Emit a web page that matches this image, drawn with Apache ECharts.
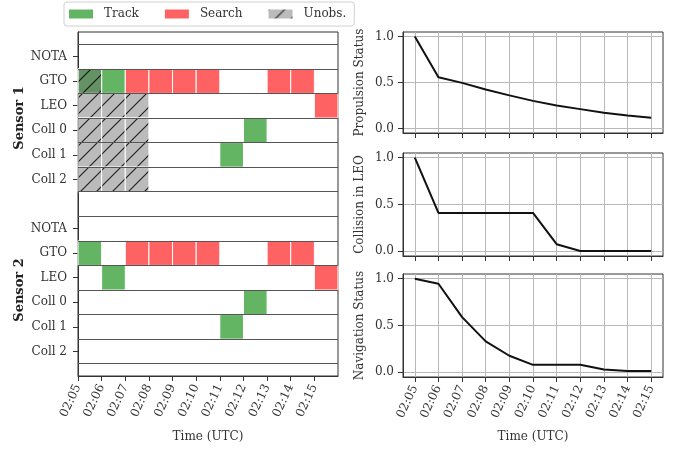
<!DOCTYPE html>
<html><head><meta charset="utf-8">
<script src="https://cdn.jsdelivr.net/npm/echarts@6/dist/echarts.min.js"></script>
<style>html,body{margin:0;padding:0;background:#fff}#c{width:677px;height:449px}</style>
</head><body><div id="c"></div>
<script>
// ---------- data ----------
const times = ['02:05','02:06','02:07','02:08','02:09','02:10','02:11','02:12','02:13','02:14','02:15'];
const rowLabels = ['NOTA','GTO','LEO','Coll 0','Coll 1','Coll 2'];
// T = Track, S = Search, - = none (one character per minute)
const sensor1States = [
  '-----------',
  'TTSSSS--SS-',
  '----------S',
  '-------T---',
  '------T----',
  '-----------'
];
const sensor1Unobs = [
  '-----------',
  'U----------',
  'UUU--------',
  'UUU--------',
  'UUU--------',
  'UUU--------'
];
const sensor2States = [
  '-----------',
  'T-SSSS--SS-',
  '-T--------S',
  '-------T---',
  '------T----',
  '-----------'
];
const sensor2Unobs = [
  '-----------',
  '-----------',
  '-----------',
  '-----------',
  '-----------',
  '-----------'
];
const propulsion = [1.0, 0.557, 0.496, 0.424, 0.36, 0.30, 0.25, 0.21, 0.17, 0.14, 0.115];
const collision  = [1.0, 0.41, 0.41, 0.41, 0.41, 0.41, 0.076, 0.004, 0.004, 0.004, 0.004];
const navigation = [1.0, 0.946, 0.59, 0.33, 0.177, 0.08, 0.08, 0.08, 0.03, 0.014, 0.014];
const statusTicks = [0, 0.5, 1.0];

// ---------- build ----------
const FONT = 'DejaVu Serif';
const SENSOR2_OFFSET = 7;
const tickIdx = times.map((t, i) => i);
const rowPositions = [];
rowLabels.forEach((r, i) => rowPositions.push(i));
rowLabels.forEach((r, i) => rowPositions.push(i + SENSOR2_OFFSET));
const rowEdges = [];
for (let i = 0; i <= SENSOR2_OFFSET + rowLabels.length; i++) rowEdges.push(i - 0.5);

function collect(states, offset, ch, out) {
  states.forEach((s, r) => {
    for (let k = 0; k < s.length; k++) if (s[k] === ch) out.push([k, r + offset]);
  });
  return out;
}
const trackData = collect(sensor2States, SENSOR2_OFFSET, 'T', collect(sensor1States, 0, 'T', []));
const searchData = collect(sensor2States, SENSOR2_OFFSET, 'S', collect(sensor1States, 0, 'S', []));
const unobsData = collect(sensor2Unobs, SENSOR2_OFFSET, 'U', collect(sensor1Unobs, 0, 'U', []));

function makeHatch() {
  const n = 16;
  const c = document.createElement('canvas');
  c.width = n; c.height = n;
  const g = c.getContext('2d');
  g.fillStyle = 'rgba(105,105,105,0.45)';
  g.fillRect(0, 0, n, n);
  g.strokeStyle = 'rgba(0,0,0,0.85)';
  g.lineWidth = 1.1;
  g.beginPath();
  g.moveTo(-2, n + 2); g.lineTo(n + 2, -2);
  g.moveTo(-2, 2); g.lineTo(2, -2);
  g.moveTo(n - 2, n + 2); g.lineTo(n + 2, n - 2);
  g.stroke();
  return c;
}
const hatchFill = { image: makeHatch(), repeat: 'repeat' };

const GREEN = '#63b463', RED = '#ff6262';

function cellSeries(name, data, fill, z) {
  return {
    name: name, type: 'custom', xAxisIndex: 0, yAxisIndex: 0, z: z,
    itemStyle: { color: fill },
    data: data,
    renderItem: function (params, api) {
      const x = api.value(0), y = api.value(1);
      const p0 = api.coord([x, y - 0.5]);
      const p1 = api.coord([x + 1, y + 0.5]);
      return {
        type: 'rect',
        shape: { x: Math.min(p0[0], p1[0]), y: Math.min(p0[1], p1[1]),
                 width: Math.abs(p1[0] - p0[0]), height: Math.abs(p1[1] - p0[1]) },
        style: { fill: fill, stroke: '#ffffff', lineWidth: 1 }
      };
    }
  };
}

const axisTxt = { fontFamily: FONT, fontSize: 12, color: '#333' };
const tickStyle = { show: true, length: 5, lineStyle: { color: '#333', width: 1 } };
const ROT = 65;

function rightX(idx, showLabels) {
  return {
    gridIndex: idx, type: 'value', min: -0.5, max: 10.5,
    axisLine: { show: true, onZero: false, lineStyle: { color: '#333' } },
    axisTick: Object.assign({ customValues: tickIdx }, tickStyle),
    axisLabel: Object.assign({ show: showLabels, customValues: tickIdx, rotate: ROT, margin: 9,
      formatter: v => times[Math.round(v)] }, axisTxt),
    splitLine: { show: true, lineStyle: { color: '#b8b8b8', width: 1 } },
    name: showLabels ? 'Time (UTC)' : '', nameLocation: 'middle', nameGap: 54,
    nameTextStyle: { fontFamily: FONT, fontSize: 12, color: '#333' }
  };
}
function rightY(idx, name) {
  return {
    gridIndex: idx, type: 'value', min: -0.05, max: 1.05,
    axisLine: { show: true, onZero: false, lineStyle: { color: '#333' } },
    axisTick: Object.assign({ customValues: statusTicks }, tickStyle),
    axisLabel: Object.assign({ customValues: statusTicks, formatter: v => v.toFixed(1), margin: 9 }, axisTxt),
    splitLine: { show: true, lineStyle: { color: '#b8b8b8', width: 1 } },
    name: name, nameLocation: 'middle', nameGap: 37,
    nameTextStyle: { fontFamily: FONT, fontSize: 12, color: '#333' }
  };
}
function lineSeries(idx, values) {
  return {
    type: 'line', xAxisIndex: idx, yAxisIndex: idx, z: 5,
    data: values.map((v, i) => [i, v]), showSymbol: false, silent: true,
    lineStyle: { color: '#111', width: 2 }, itemStyle: { color: '#111' }
  };
}

const gridBox = { show: true, borderColor: '#333', borderWidth: 1, backgroundColor: '#fff' };

const option = {
  animation: false,
  backgroundColor: '#fff',
  legend: {
    data: ['Track', 'Search', 'Unobs.'],
    left: 64, top: 2, icon: 'rect', itemWidth: 24, itemHeight: 9, itemGap: 26,
    padding: [6, 8, 6, 5],
    borderColor: '#d0d0d0', borderWidth: 1, borderRadius: 3,
    textStyle: { fontFamily: FONT, fontSize: 12, color: '#333', padding: [0, 0, 0, 6] }
  },
  grid: [
    Object.assign({ left: 78, top: 32, width: 260, height: 344 }, gridBox),
    Object.assign({ left: 403, top: 32, width: 260, height: 101 }, gridBox),
    Object.assign({ left: 403, top: 153, width: 260, height: 103 }, gridBox),
    Object.assign({ left: 403, top: 274, width: 260, height: 103 }, gridBox)
  ],
  xAxis: [
    {
      gridIndex: 0, type: 'value', min: 0, max: times.length,
      axisLine: { show: true, onZero: false, lineStyle: { color: '#333' } },
      axisTick: Object.assign({ customValues: tickIdx }, tickStyle),
      axisLabel: Object.assign({ customValues: tickIdx, rotate: ROT, margin: 9,
        formatter: v => times[Math.round(v)] }, axisTxt),
      splitLine: { show: false },
      name: 'Time (UTC)', nameLocation: 'middle', nameGap: 55,
      nameTextStyle: { fontFamily: FONT, fontSize: 12, color: '#333' }
    },
    rightX(1, false), rightX(2, false), rightX(3, true)
  ],
  yAxis: [
    {
      gridIndex: 0, type: 'value', inverse: true, min: -1, max: SENSOR2_OFFSET + rowLabels.length,
      axisLine: { show: true, onZero: false, lineStyle: { color: '#333' } },
      axisTick: Object.assign({ customValues: rowPositions }, tickStyle),
      axisLabel: Object.assign({ customValues: rowPositions, margin: 11,
        formatter: v => rowLabels[Math.round(v) % SENSOR2_OFFSET] }, axisTxt),
      splitLine: { show: false }
    },
    rightY(1, 'Propulsion Status'), rightY(2, 'Collision in LEO'), rightY(3, 'Navigation Status')
  ],
  graphic: [
    { type: 'text', x: 20, y: 118, rotation: Math.PI / 2,
      style: { text: 'Sensor 1', font: 'bold 13px "DejaVu Serif"', fill: '#222', align: 'center', verticalAlign: 'middle' } },
    { type: 'text', x: 20, y: 290, rotation: Math.PI / 2,
      style: { text: 'Sensor 2', font: 'bold 13px "DejaVu Serif"', fill: '#222', align: 'center', verticalAlign: 'middle' } }
  ],
  series: [
    cellSeries('Track', trackData, GREEN, 2),
    cellSeries('Search', searchData, RED, 2),
    cellSeries('Unobs.', unobsData, hatchFill, 3),
    {
      type: 'line', xAxisIndex: 0, yAxisIndex: 0, z: 8, data: [], silent: true,
      markLine: {
        silent: true, symbol: ['none', 'none'], label: { show: false },
        lineStyle: { color: '#555', width: 1, type: 'solid' },
        emphasis: { disabled: true },
        data: rowEdges.map(v => ({ yAxis: v }))
      }
    },
    lineSeries(1, propulsion), lineSeries(2, collision), lineSeries(3, navigation)
  ]
};

const chart = echarts.init(document.getElementById('c'), null, { renderer: 'canvas' });
chart.setOption(option);
</script>
</body></html>
